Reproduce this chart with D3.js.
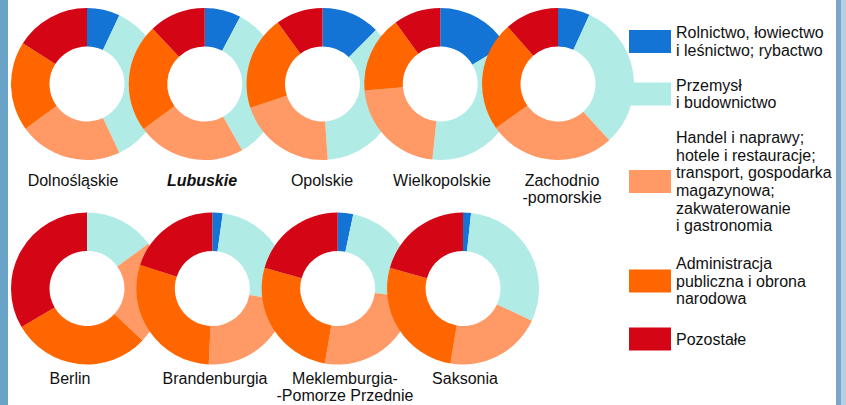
<!DOCTYPE html>
<html><head><meta charset="utf-8">
<script src="https://cdn.jsdelivr.net/npm/d3@7"></script>
<style>
html,body{margin:0;padding:0;background:#fff;}
svg{display:block;font-family:"Liberation Sans",Arial,sans-serif;}
</style></head>
<body>
<svg id="chart" width="846" height="405"></svg>
<script>
// ---- data ----
const regions = ["Dolnośląskie", "Lubuskie", "Opolskie", "Wielkopolskie", "Zachodnio\n-pomorskie",
                 "Berlin", "Brandenburgia", "Meklemburgia-\n-Pomorze Przednie", "Saksonia"];
const rolnictwo     = [7.0, 7.7, 12.4, 16.4, 6.8, 0.0, 2.2, 3.3, 1.7];
const przemysl      = [36.0, 34.0, 36.4, 35.3, 31.5, 15.0, 25.5, 23.6, 30.3];
const handel        = [22.0, 23.0, 21.0, 22.0, 27.0, 22.0, 23.0, 25.8, 20.7];
const administracja = [19.0, 23.0, 20.0, 16.4, 23.4, 29.6, 29.3, 26.7, 26.8];
const pozostale     = [16.0, 12.0, 10.0, 10.0, 11.5, 33.5, 19.9, 20.6, 20.6];
const sectors = ["Rolnictwo, łowiectwo\ni leśnictwo; rybactwo",
                 "Przemysł\ni budownictwo",
                 "Handel i naprawy;\nhotele i restauracje;\ntransport, gospodarka\nmagazynowa;\nzakwaterowanie\ni gastronomia",
                 "Administracja\npubliczna i obrona\nnarodowa",
                 "Pozostałe"];
const series = [rolnictwo, przemysl, handel, administracja, pozostale];

// ---- layout ----
const colors = ["#1474d6", "#b0ebe6", "#ff9966", "#ff6600", "#d40514"];
const color = d3.scaleOrdinal().domain(d3.range(5)).range(colors);
const svg = d3.select("#chart");

svg.append("rect").attr("x",0).attr("y",0).attr("width",8).attr("height",405).attr("fill","#69a3c8");
svg.append("rect").attr("x",836).attr("y",0).attr("width",5).attr("height",405).attr("fill","#7aa6c9");
svg.append("rect").attr("x",841).attr("y",0).attr("width",5).attr("height",405).attr("fill","#b7d0e1");

const row1 = d3.scaleLinear().domain([0,4]).range([87,558]);
const row2 = d3.scaleLinear().domain([0,3]).range([87,463]);
const rowY = [84, 288.5];
const labelX = [73, 202, 322, 442, 562, 70, 215, 345, 465];
const labelY = [180, 378];

const pie = d3.pie().sort(null).value(d => d);
const arc = d3.arc().innerRadius(37.5).outerRadius(76);

regions.forEach((name, i) => {
  const row = i < 5 ? 0 : 1;
  const cx = row === 0 ? row1(i) : row2(i-5);
  const cy = rowY[row];
  const vals = series.map(s => s[i]);
  const g = svg.append("g").attr("transform", `translate(${cx},${cy})`);
  g.selectAll("path").data(pie(vals)).join("path")
    .attr("d", arc).attr("fill", (d,k) => color(k));
});

regions.forEach((name, i) => {
  const row = i < 5 ? 0 : 1;
  const lines = name.split("\n");
  const t = svg.append("text")
    .attr("x", labelX[i]).attr("y", labelY[row])
    .attr("text-anchor","middle").attr("font-size",16).attr("fill","#111")
    .style("font-weight", name === "Lubuskie" ? "bold" : "normal")
    .style("font-style", name === "Lubuskie" ? "italic" : "normal");
  lines.forEach((l, k) => t.append("tspan").attr("x", labelX[i]).attr("dy", k === 0 ? "0.35em" : 17.5).text(l));
});

// legend
const legY = [41.5, 94, 181.5, 281, 339];
sectors.forEach((s, k) => {
  svg.append("rect").attr("x",629).attr("y",legY[k]-11.5).attr("width",42).attr("height",23).attr("fill",color(k));
  const lines = s.split("\n");
  const lh = 17.6;
  const y0 = legY[k] - (lines.length-1)/2*lh;
  const t = svg.append("text").attr("font-size",16).attr("fill","#111");
  lines.forEach((l, j) => t.append("tspan").attr("x",676).attr("y", y0 + j*lh).attr("dy","0.35em").text(l));
});
</script>
</body></html>
